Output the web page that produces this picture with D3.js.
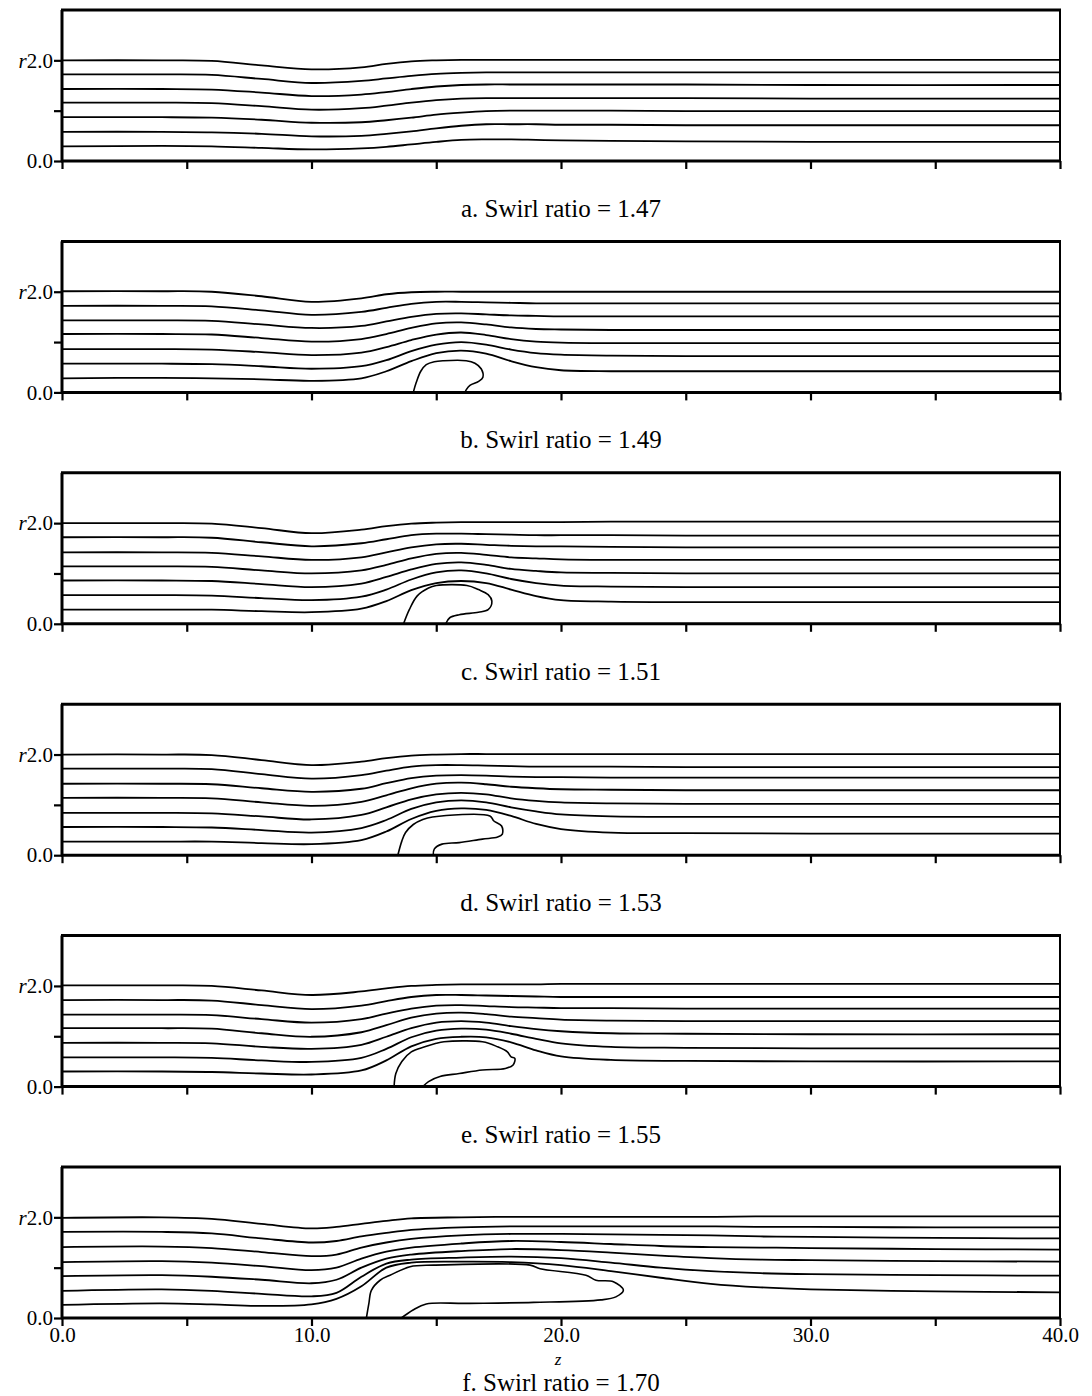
<!DOCTYPE html>
<html><head><meta charset="utf-8">
<script src="https://cdn.jsdelivr.net/npm/d3@7"></script>
<style>
body{margin:0;background:#fff;}
svg{display:block;}
text{font-family:"Liberation Serif","DejaVu Serif",serif;fill:#000;}
</style></head>
<body><div id="chart"></div>
<script>
// ---------- data ----------
const captions = ["a. Swirl ratio = 1.47","b. Swirl ratio = 1.49","c. Swirl ratio = 1.51",
                  "d. Swirl ratio = 1.53","e. Swirl ratio = 1.55","f. Swirl ratio = 1.70"];
const xTicks = [0,5,10,15,20,25,30,35,40];
const xTickLabels = ["0.0","","10.0","","20.0","","30.0","","40.0"];
const yTicks = [0,1,2];
const yTickLabels = ["0.0","","2.0"];
const zDomain = [0,40];
const rDomain = [0,3];

// z positions where streamline radii are sampled (panels a–e)
const zGrid = [0,4,6,8,10,12,13,14,15,16,17,18,19,20,22,25,30,40];
// panel f sampling
const zGridF = [0,4,6,8,10,11,12,13,14,16,18,20,22,24,26,28,30,35,40];

const panelA = [
 [0.29,0.30,0.29,0.26,0.23,0.25,0.28,0.33,0.38,0.42,0.43,0.43,0.42,0.41,0.40,0.39,0.38,0.38],
 [0.58,0.58,0.57,0.54,0.49,0.50,0.54,0.59,0.65,0.70,0.73,0.73,0.73,0.72,0.72,0.71,0.71,0.71],
 [0.87,0.87,0.86,0.82,0.76,0.77,0.81,0.86,0.92,0.96,0.99,1.00,1.00,1.00,1.00,0.99,0.99,0.99],
 [1.16,1.16,1.15,1.09,1.02,1.05,1.10,1.16,1.21,1.24,1.25,1.25,1.25,1.25,1.25,1.25,1.24,1.24],
 [1.43,1.43,1.42,1.36,1.29,1.32,1.37,1.43,1.48,1.51,1.52,1.52,1.52,1.52,1.52,1.52,1.51,1.51],
 [1.72,1.72,1.71,1.63,1.55,1.59,1.64,1.69,1.73,1.75,1.76,1.76,1.76,1.76,1.76,1.76,1.76,1.76],
 [2.00,2.00,1.99,1.90,1.82,1.86,1.93,1.98,2.00,2.01,2.01,2.01,2.01,2.01,2.01,2.01,2.01,2.01]
];
const panelB = [
 [0.28,0.29,0.28,0.26,0.23,0.28,0.42,0.62,0.78,0.83,0.77,0.62,0.50,0.44,0.42,0.42,0.42,0.42],
 [0.57,0.57,0.56,0.52,0.47,0.52,0.64,0.82,0.95,1.00,0.95,0.85,0.78,0.75,0.73,0.72,0.72,0.72],
 [0.86,0.86,0.85,0.80,0.74,0.79,0.90,1.04,1.15,1.19,1.14,1.06,1.01,0.99,0.98,0.98,0.98,0.98],
 [1.16,1.16,1.15,1.08,1.01,1.06,1.16,1.28,1.37,1.39,1.35,1.29,1.26,1.25,1.24,1.24,1.24,1.24],
 [1.43,1.43,1.42,1.35,1.28,1.32,1.41,1.50,1.56,1.57,1.55,1.53,1.52,1.51,1.51,1.51,1.51,1.51],
 [1.72,1.72,1.71,1.63,1.54,1.60,1.68,1.76,1.80,1.80,1.79,1.78,1.77,1.77,1.77,1.77,1.77,1.77],
 [2.01,2.01,2.00,1.91,1.80,1.87,1.95,1.99,2.00,2.00,2.00,2.00,2.00,2.00,2.00,2.00,2.00,2.00]
];
const panelC = [
 [0.28,0.28,0.28,0.25,0.23,0.30,0.45,0.67,0.81,0.85,0.81,0.68,0.55,0.47,0.44,0.43,0.43,0.43],
 [0.57,0.57,0.56,0.51,0.47,0.54,0.68,0.88,1.02,1.06,1.00,0.89,0.81,0.76,0.74,0.73,0.73,0.73],
 [0.86,0.86,0.85,0.79,0.73,0.80,0.93,1.08,1.19,1.22,1.17,1.09,1.05,1.02,1.01,1.00,1.00,1.00],
 [1.14,1.14,1.13,1.06,1.00,1.06,1.17,1.30,1.39,1.41,1.37,1.32,1.30,1.28,1.27,1.27,1.27,1.27],
 [1.42,1.42,1.41,1.34,1.27,1.32,1.42,1.52,1.58,1.59,1.57,1.55,1.54,1.54,1.53,1.52,1.52,1.52],
 [1.72,1.72,1.71,1.62,1.54,1.60,1.68,1.76,1.79,1.79,1.78,1.77,1.76,1.76,1.76,1.75,1.75,1.75],
 [2.00,2.00,1.99,1.90,1.80,1.87,1.94,1.99,2.01,2.02,2.02,2.02,2.02,2.02,2.03,2.03,2.03,2.03]
];
const panelD = [
 [0.27,0.27,0.27,0.24,0.22,0.30,0.47,0.72,0.88,0.93,0.90,0.78,0.62,0.52,0.45,0.44,0.43,0.43],
 [0.56,0.56,0.55,0.50,0.45,0.54,0.70,0.92,1.05,1.09,1.05,0.95,0.87,0.81,0.77,0.76,0.76,0.76],
 [0.84,0.84,0.83,0.77,0.71,0.80,0.95,1.11,1.21,1.24,1.21,1.13,1.08,1.05,1.03,1.02,1.02,1.02],
 [1.14,1.14,1.13,1.05,0.98,1.06,1.19,1.33,1.42,1.44,1.41,1.36,1.33,1.31,1.30,1.29,1.29,1.29],
 [1.42,1.42,1.41,1.33,1.26,1.32,1.43,1.53,1.58,1.59,1.58,1.56,1.55,1.55,1.54,1.54,1.54,1.54],
 [1.72,1.72,1.71,1.61,1.52,1.59,1.68,1.76,1.79,1.79,1.78,1.77,1.76,1.76,1.76,1.75,1.75,1.75],
 [2.00,2.00,1.99,1.89,1.79,1.86,1.93,1.98,2.00,2.01,2.01,2.01,2.01,2.01,2.01,2.01,2.01,2.01]
];
const panelE = [
 [0.30,0.30,0.29,0.26,0.24,0.32,0.52,0.80,0.95,0.99,0.98,0.88,0.72,0.60,0.53,0.51,0.50,0.50],
 [0.58,0.58,0.57,0.52,0.49,0.57,0.75,0.98,1.11,1.15,1.13,1.05,0.95,0.86,0.79,0.77,0.76,0.76],
 [0.87,0.87,0.86,0.79,0.75,0.83,0.99,1.16,1.27,1.30,1.27,1.20,1.14,1.10,1.06,1.05,1.04,1.04],
 [1.16,1.16,1.15,1.06,0.99,1.08,1.22,1.37,1.45,1.47,1.44,1.39,1.36,1.33,1.31,1.30,1.30,1.30],
 [1.43,1.43,1.42,1.34,1.27,1.34,1.45,1.55,1.61,1.62,1.60,1.58,1.57,1.56,1.56,1.55,1.55,1.55],
 [1.72,1.72,1.71,1.62,1.54,1.61,1.70,1.78,1.82,1.82,1.81,1.80,1.79,1.78,1.78,1.78,1.78,1.78],
 [2.01,2.01,2.00,1.91,1.82,1.89,1.95,2.00,2.02,2.03,2.03,2.03,2.03,2.04,2.04,2.04,2.04,2.04]
];
const panelF = [
 [0.26,0.29,0.27,0.24,0.27,0.38,0.63,1.00,1.10,1.12,1.11,1.05,0.93,0.80,0.68,0.61,0.57,0.53,0.51],
 [0.54,0.57,0.54,0.48,0.43,0.50,0.82,1.08,1.16,1.20,1.22,1.19,1.10,1.00,0.93,0.89,0.87,0.85,0.84],
 [0.83,0.85,0.82,0.76,0.69,0.76,1.00,1.18,1.26,1.33,1.37,1.35,1.30,1.24,1.19,1.16,1.15,1.13,1.12],
 [1.11,1.13,1.10,1.03,0.95,1.00,1.18,1.32,1.40,1.48,1.53,1.51,1.47,1.43,1.41,1.40,1.39,1.37,1.36],
 [1.41,1.42,1.39,1.31,1.23,1.26,1.40,1.50,1.57,1.64,1.67,1.67,1.66,1.65,1.64,1.62,1.61,1.59,1.58],
 [1.71,1.71,1.68,1.58,1.50,1.53,1.62,1.69,1.75,1.80,1.82,1.82,1.82,1.82,1.82,1.81,1.81,1.80,1.80],
 [1.99,2.00,1.97,1.87,1.78,1.81,1.87,1.93,1.98,2.00,2.01,2.01,2.01,2.01,2.01,2.02,2.02,2.02,2.02]
];

// recirculation bubbles: [z, r] contour points from wall to wall
const bubbleA = [];
const bubbleB = [[14.08,0],[14.2,0.2],[14.38,0.42],[14.6,0.55],[14.92,0.61],[15.3,0.63],[16.2,0.63],[16.55,0.58],[16.8,0.47],[16.87,0.3],[16.7,0.22],[16.35,0.14],[16.2,0.05],[16.15,0]];
const bubbleC = [[13.69,0],[13.92,0.28],[14.23,0.55],[14.69,0.71],[15.0,0.76],[16.23,0.76],[16.69,0.68],[17.08,0.58],[17.23,0.45],[17.08,0.28],[16.69,0.23],[15.92,0.18],[15.54,0.12],[15.38,0]];
const bubbleD = [[13.46,0],[13.62,0.28],[13.77,0.45],[14.08,0.61],[14.46,0.71],[14.85,0.76],[17.15,0.78],[17.31,0.68],[17.62,0.58],[17.65,0.42],[17.46,0.36],[16.85,0.32],[15.92,0.25],[15.23,0.22],[14.92,0.12],[14.88,0]];
const bubbleE = [[13.31,0],[13.38,0.26],[13.62,0.5],[14.0,0.69],[14.54,0.79],[15.0,0.86],[15.31,0.89],[16.85,0.89],[17.46,0.79],[17.85,0.69],[18.0,0.59],[18.15,0.56],[18.08,0.43],[17.77,0.36],[16.85,0.33],[15.92,0.26],[15.15,0.2],[14.69,0.1],[14.46,0]];
const bubbleF = [[12.2,0],[12.3,0.29],[12.4,0.55],[12.75,0.75],[13.15,0.85],[13.95,1.02],[14.9,1.05],[18.76,1.05],[19.16,0.98],[21.0,0.85],[21.4,0.75],[22.1,0.72],[22.5,0.55],[22.2,0.42],[21.6,0.36],[18.9,0.31],[16.2,0.29],[14.6,0.28],[14.07,0.16],[13.6,0]];

// ---------- drawing ----------
const W = 1092, H = 1396;
const svg = d3.select("#chart").append("svg").attr("width", W).attr("height", H);

const panels = [
  {lines: panelA, grid: zGrid,  bubble: bubbleA},
  {lines: panelB, grid: zGrid,  bubble: bubbleB},
  {lines: panelC, grid: zGrid,  bubble: bubbleC},
  {lines: panelD, grid: zGrid,  bubble: bubbleD},
  {lines: panelE, grid: zGrid,  bubble: bubbleE},
  {lines: panelF, grid: zGridF, bubble: bubbleF}
];

const x = d3.scaleLinear().domain(zDomain).range([62, 1060]);
const panelH = 151, step = 231.4, firstBottom = 161;

panels.forEach((p, i) => {
  const bottom = firstBottom + i * step;
  const y = d3.scaleLinear().domain(rDomain).range([bottom, bottom - panelH]);
  const g = svg.append("g");

  const line = d3.line().x(d => x(d[0])).y(d => y(d[1])).curve(d3.curveCatmullRom.alpha(0.5));
  p.lines.forEach(rs => {
    g.append("path").attr("d", line(p.grid.map((z, k) => [z, rs[k]])))
      .attr("fill", "none").attr("stroke", "#000").attr("stroke-width", 1.8);
  });
  if (p.bubble.length) {
    g.append("path").attr("d", line(p.bubble))
      .attr("fill", "none").attr("stroke", "#000").attr("stroke-width", 1.6);
  }

  // frame
  const [x0, x1] = x.range();
  const yt = y(rDomain[1]), yb = y(0);
  g.append("line").attr("x1", x0 - 1).attr("x2", x1 + 1).attr("y1", yt).attr("y2", yt).attr("stroke", "#000").attr("stroke-width", 3);
  g.append("line").attr("x1", x0 - 1).attr("x2", x1 + 1).attr("y1", yb).attr("y2", yb).attr("stroke", "#000").attr("stroke-width", 3);
  g.append("line").attr("x1", x0).attr("x2", x0).attr("y1", yt).attr("y2", yb).attr("stroke", "#000").attr("stroke-width", 3);
  g.append("line").attr("x1", x1).attr("x2", x1).attr("y1", yt).attr("y2", yb).attr("stroke", "#000").attr("stroke-width", 2);

  // x axis ticks
  const isLast = i === panels.length - 1;
  const xAxis = d3.axisBottom(x).tickValues(xTicks).tickSize(8).tickSizeOuter(0)
    .tickFormat((d, k) => isLast ? xTickLabels[k] : "");
  const gx = g.append("g").attr("transform", `translate(0,${yb})`).call(xAxis);
  gx.select(".domain").remove();
  gx.selectAll(".tick line").attr("stroke-width", 2.2);
  gx.selectAll(".tick text").attr("font-size", 21).attr("font-family", "Liberation Serif")
    .attr("y", 8).attr("dy", "0.78em");

  // y axis ticks
  const yAxis = d3.axisLeft(y).tickValues(yTicks).tickSize(8).tickSizeOuter(0)
    .tickFormat((d, k) => yTickLabels[k]);
  const gy = g.append("g").attr("transform", `translate(${x0},0)`).call(yAxis);
  gy.select(".domain").remove();
  gy.selectAll(".tick line").attr("stroke-width", 2.2);
  gy.selectAll(".tick text").attr("font-size", 21).attr("font-family", "Liberation Serif").attr("x", -9);
  gy.selectAll(".tick").filter(d => d === 2).select("text").each(function () {
    const t = d3.select(this); const s = t.text(); t.text("");
    t.append("tspan").attr("font-style", "italic").text("r");
    t.append("tspan").text(s);
  });

  if (isLast) {
    g.append("text").attr("x", x(20) - 3).attr("y", yb + 47).attr("text-anchor", "middle")
      .attr("font-size", 17).attr("font-style", "italic").text("z");
  }
  g.append("text").attr("x", x(20)).attr("y", yb + (isLast ? 73 : 56)).attr("text-anchor", "middle")
    .attr("font-size", 25).text(captions[i]);
});
</script></body></html>
